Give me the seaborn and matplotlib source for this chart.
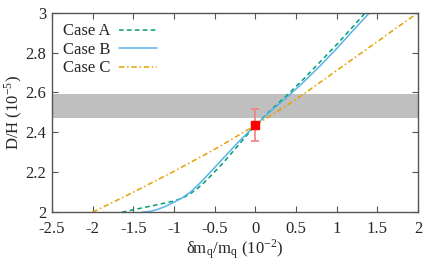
import numpy as np
import pandas as pd
import matplotlib
matplotlib.use("Agg")
import matplotlib.pyplot as plt
import seaborn as sns

# data
case_a_x = [-1.64, -1.4, -1.2, -1.0, -0.9, -0.8, -0.7, -0.6, -0.4, -0.2, 0.0, 0.2, 0.4, 0.6, 0.8, 1.0, 1.2, 1.353]
case_a_y = [2.0, 2.021, 2.038, 2.056, 2.07, 2.092, 2.123, 2.16, 2.245, 2.34, 2.435, 2.515, 2.59, 2.67, 2.755, 2.84, 2.93, 3.0]

case_b_x = [-1.39, -1.3, -1.2, -1.1, -1.0, -0.9, -0.8, -0.7, -0.6, -0.4, -0.2, 0.0, 0.2, 0.4, 0.6, 0.8, 1.0, 1.2, 1.405]
case_b_y = [2.0, 2.004, 2.014, 2.03, 2.05, 2.072, 2.1, 2.138, 2.18, 2.268, 2.355, 2.435, 2.51, 2.58, 2.655, 2.735, 2.82, 2.91, 3.0]

case_c_x = [-2.0, -1.5, -1.0, -0.5, 0.0, 0.5, 1.0, 1.5, 2.0]
case_c_y = [2.0, 2.1, 2.205, 2.315, 2.435, 2.565, 2.71, 2.855, 3.0]

band_lo, band_hi = 2.47, 2.59
obs_x, obs_y, obs_err = 0.0, 2.435, 0.08

x_ticks = [-2.5, -2, -1.5, -1, -0.5, 0, 0.5, 1, 1.5, 2]
x_ticklabels = ["-2.5", "-2", "-1.5", "-1", "-0.5", "0", "0.5", "1", "1.5", "2"]
y_ticks = [2, 2.2, 2.4, 2.6, 2.8, 3]
y_ticklabels = ["2", "2.2", "2.4", "2.6", "2.8", "3"]

sns.set_style("ticks")
plt.rcParams['font.family'] = ['Liberation Serif', 'DejaVu Serif']
plt.rcParams['mathtext.fontset'] = 'stix'

df = pd.concat([
    pd.DataFrame({'x': case_a_x, 'y': case_a_y, 'case': 'Case A'}),
    pd.DataFrame({'x': case_b_x, 'y': case_b_y, 'case': 'Case B'}),
    pd.DataFrame({'x': case_c_x, 'y': case_c_y, 'case': 'Case C'}),
], ignore_index=True)

fig, ax = plt.subplots(figsize=(4.36, 2.62), dpi=100)
fig.subplots_adjust(left=0.119, right=0.959, bottom=0.19, top=0.952)

ax.axhspan(band_lo, band_hi, color='#bfbfbf', lw=0, zorder=0)

styles = {
    'Case A': dict(color='#009e73', dashes=(3, 2.2)),
    'Case B': dict(color='#56b4e9', dashes=()),
    'Case C': dict(color='#e69f00', dashes=(3.5, 1.8, 1, 1.8)),
}
for name, st in styles.items():
    sub = df[df['case'] == name]
    sns.lineplot(data=sub, x='x', y='y', ax=ax, color=st['color'],
                 lw=1.1, label=name, sort=False, estimator=None)
    if st['dashes']:
        ax.lines[-1].set_dashes(st['dashes'])

ax.errorbar([obs_x], [obs_y], yerr=[obs_err], fmt='none', ecolor='#f08080',
            elinewidth=1.2, capsize=3, capthick=1.2, zorder=4)
ax.plot([obs_x], [obs_y], marker='s', color='#ff0000', ms=5.5, ls='none', zorder=5)

ax.set_xlim(-2.5, 2)
ax.set_ylim(2, 3)
ax.set_xticks(x_ticks)
ax.set_xticklabels(x_ticklabels)
ax.set_yticks(y_ticks)
ax.set_yticklabels(y_ticklabels)
ax.tick_params(direction='in', length=4, width=0.8, color='#555555',
               top=True, right=True, labelsize=12)
ax.tick_params(axis='x', pad=6.5)
ax.tick_params(axis='y', pad=4)
for sp in ax.spines.values():
    sp.set_color('#555555')
    sp.set_linewidth(1.0)

ax.set_xlabel(r'δm$_\mathregular{q}$/m$_\mathregular{q}$ (10$^\mathregular{-2}$)', fontsize=12, labelpad=0)
ax.set_ylabel(r'D/H (10$^\mathregular{-5}$)', fontsize=12, labelpad=1)

ax.legend(loc='upper left', frameon=False, markerfirst=False, fontsize=12,
          handlelength=2.3, handletextpad=0.5, labelspacing=0.15,
          borderaxespad=0.25, bbox_to_anchor=(0.0, 1.0))

plt.savefig('out.png', dpi=100)
plt.close()
